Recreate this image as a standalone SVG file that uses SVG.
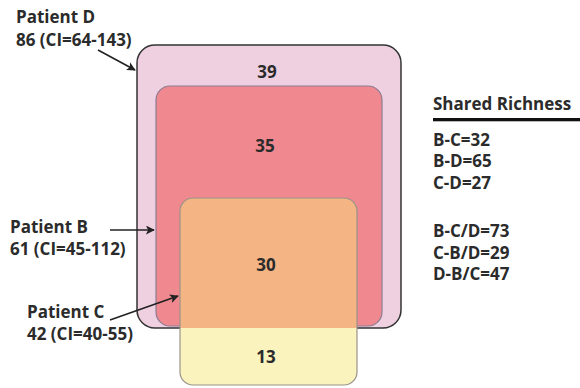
<svg xmlns="http://www.w3.org/2000/svg" width="580" height="388" viewBox="0 0 580 388">
<style>
text{font-family:"Open Sans","Liberation Sans",sans-serif;font-weight:bold;fill:#2b2b2b;font-size:17px}
.num{text-anchor:middle}
.arrow{stroke:#222;stroke-width:1.6;fill:none;marker-end:url(#ah)}
</style>
<defs>
<marker id="ah" viewBox="0 0 10 10" refX="9" refY="5" markerWidth="9" markerHeight="9" markerUnits="userSpaceOnUse" orient="auto">
<path d="M0,0 L10,5 L0,10 L2.5,5 z" fill="#222"/>
</marker>
<linearGradient id="cg" gradientUnits="userSpaceOnUse" x1="0" y1="198" x2="0" y2="385">
<stop offset="0.695" stop-color="#f4b484"/>
<stop offset="0.695" stop-color="#faf3be"/>
</linearGradient>
</defs>
<rect width="580" height="388" fill="#fff"/>
<g id="patientD">
<rect x="137" y="45" width="264" height="283" rx="18" fill="#efd0e0" stroke="#333" stroke-width="1.5"/>
<text class="num" x="267" y="78">39</text>
</g>
<g id="patientB">
<rect x="156" y="86" width="226" height="240" rx="14" fill="#f08890" stroke="#8c7c90" stroke-width="1.2"/>
<text class="num" x="265" y="152">35</text>
</g>
<g id="patientC">
<rect x="180" y="198" width="177" height="187" rx="13" fill="url(#cg)" stroke="#9a9488" stroke-width="1.2"/>
<text class="num" x="266" y="271">30</text>
<text class="num" x="266" y="363">13</text>
</g>
<g id="labels">
<text x="16" y="23">Patient D</text>
<text x="16" y="46">86 (CI=64-143)</text>
<text x="10" y="233">Patient B</text>
<text x="10" y="255">61 (CI=45-112)</text>
<text x="27" y="318">Patient C</text>
<text x="27" y="340">42 (CI=40-55)</text>
</g>
<g id="connectors">
<line class="arrow" x1="98" y1="50" x2="135" y2="70"/>
<line class="arrow" x1="110" y1="230" x2="154" y2="230"/>
<line class="arrow" x1="110" y1="320" x2="178" y2="296"/>
</g>
<g id="legend">
<text x="433" y="110">Shared Richness</text>
<rect x="433" y="118" width="147" height="3.3" fill="#111"/>
<text x="433" y="146">B-C=32</text>
<text x="433" y="167">B-D=65</text>
<text x="433" y="189">C-D=27</text>
<text x="433" y="237">B-C/D=73</text>
<text x="433" y="259">C-B/D=29</text>
<text x="433" y="280">D-B/C=47</text>
</g>
</svg>
